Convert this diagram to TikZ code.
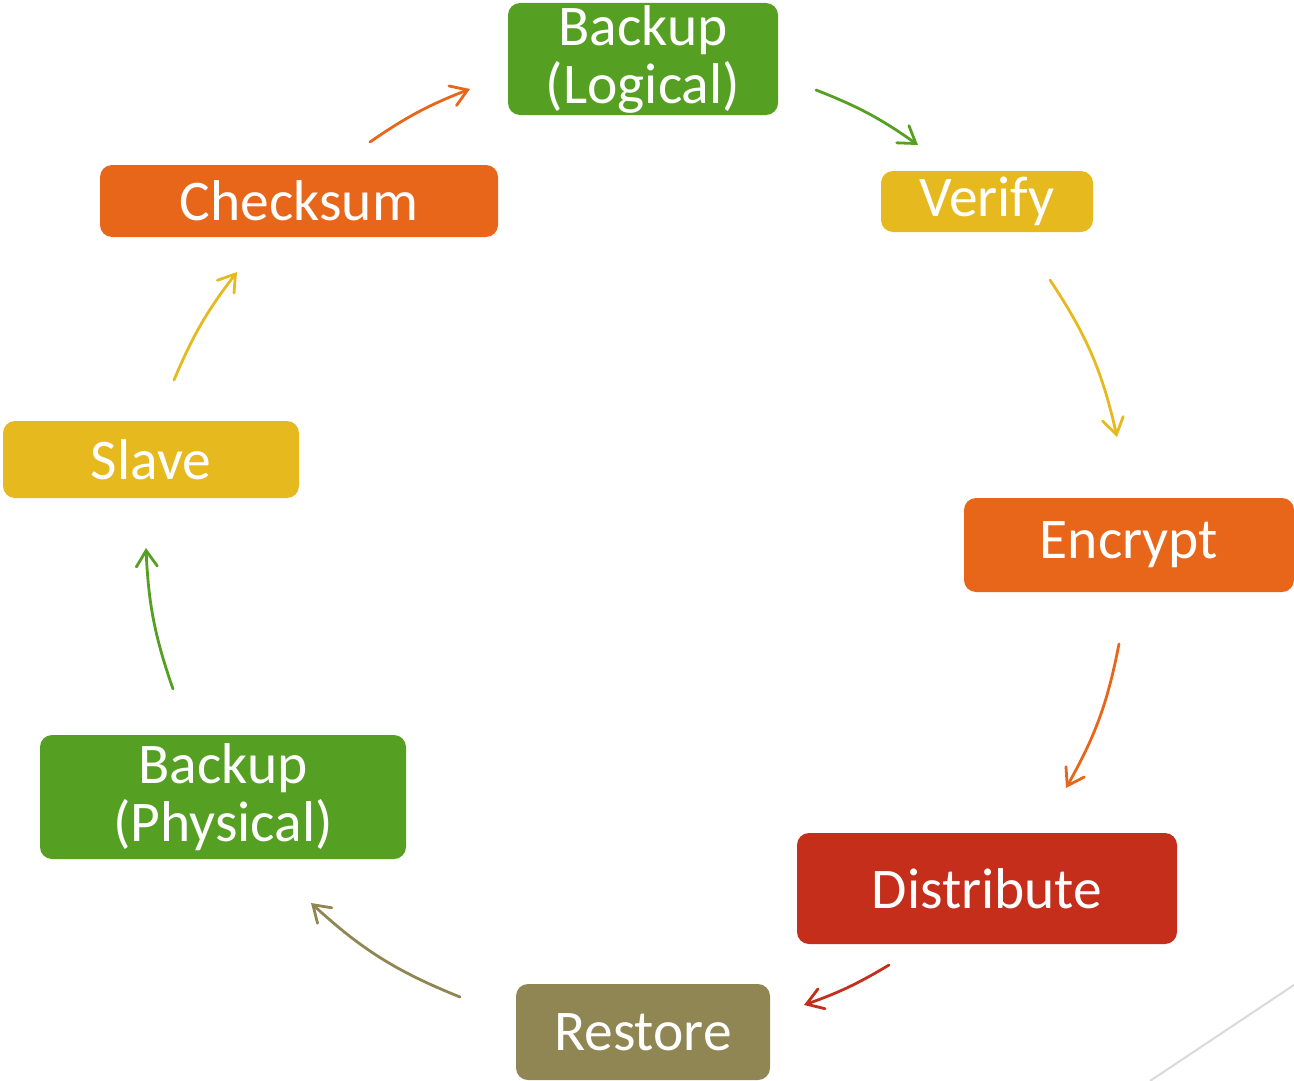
\documentclass[tikz,border=0pt]{standalone}
\usepackage{fontspec}
\setmainfont{Carlito}
\usetikzlibrary{arrows.meta}
\definecolor{cgreen}{HTML}{55A023}
\definecolor{cyellow}{HTML}{E6B91F}
\definecolor{corange}{HTML}{E8661A}
\definecolor{cred}{HTML}{C42E1A}
\definecolor{colive}{HTML}{8F8653}
\definecolor{cline}{HTML}{D9D9D9}
\tikzset{
  stage/.style={fill=#1, draw=none, rounded corners=12pt, text=white, align=center,
    inner sep=0pt, font=\fontsize{57.5}{57}\selectfont},
  flow/.style={draw=#1, line width=2.8pt, line cap=round,
    -{Straight Barb[length=16pt,width=21pt,line cap=round]}},
}
\begin{document}
\begin{tikzpicture}[x=1pt,y=-1pt]
\useasboundingbox (0,0) rectangle (1294,1081);

% decorative corner line
\coordinate (l1) at (1150,1081);
\coordinate (l2) at (1294,985);
\draw[cline, line width=2pt] (l1) -- (l2);

% process stages
\node[stage=cgreen,  minimum width=270, minimum height=112] (bl)  at (643,59)    {\raisebox{-3pt}{Backup}\\[1pt]\raisebox{-3pt}{(Logical)}};
\node[stage=cyellow, minimum width=212, minimum height=61]  (ver) at (987,201.5) {Verify};
\node[stage=corange, minimum width=330, minimum height=94]  (enc) at (1129,545)  {Encrypt};
\node[stage=cred,    minimum width=380, minimum height=111] (dis) at (987,888.5) {Distribute};
\node[stage=colive,  minimum width=254, minimum height=96]  (res) at (643,1032)  {Restore};
\node[stage=cgreen,  minimum width=366, minimum height=124] (bp)  at (223,797)   {\raisebox{-3pt}{Backup}\\[1pt]\raisebox{-3pt}{(Physical)}};
\node[stage=cyellow, minimum width=296, minimum height=77]  (sl)  at (151,459.5) {Slave};
\node[stage=corange, minimum width=398, minimum height=72]  (ch)  at (299,201)   {Checksum};

% arrow end points around the cycle
\coordinate (a1s) at (370,142);  \coordinate (a1e) at (470,89);
\coordinate (a2s) at (816,90);   \coordinate (a2e) at (918,145);
\coordinate (a3s) at (1050,280); \coordinate (a3e) at (1117,437);
\coordinate (a4s) at (1119,644); \coordinate (a4e) at (1066,788);
\coordinate (a5s) at (889,965);  \coordinate (a5e) at (804,1005);
\coordinate (a6s) at (460,997);  \coordinate (a6e) at (311,903);
\coordinate (a7s) at (173,689);  \coordinate (a7e) at (146,548);
\coordinate (a8s) at (174,380);  \coordinate (a8e) at (237,272);

\draw[flow=corange] (a1s) to[bend left=6.7]  (a1e);
\draw[flow=cgreen]  (a2s) to[bend left=7]    (a2e);
\draw[flow=cyellow] (a3s) to[bend left=10.5] (a3e);
\draw[flow=corange] (a4s) to[bend left=9.2]  (a4e);
\draw[flow=cred]    (a5s) to[bend left=5.7]  (a5e);
\draw[flow=colive]  (a6s) to[bend left=10.3] (a6e);
\draw[flow=cgreen]  (a7s) to[bend left=8.3]  (a7e);
\draw[flow=cyellow] (a8s) to[bend left=7.3]  (a8e);
\end{tikzpicture}
\end{document}
